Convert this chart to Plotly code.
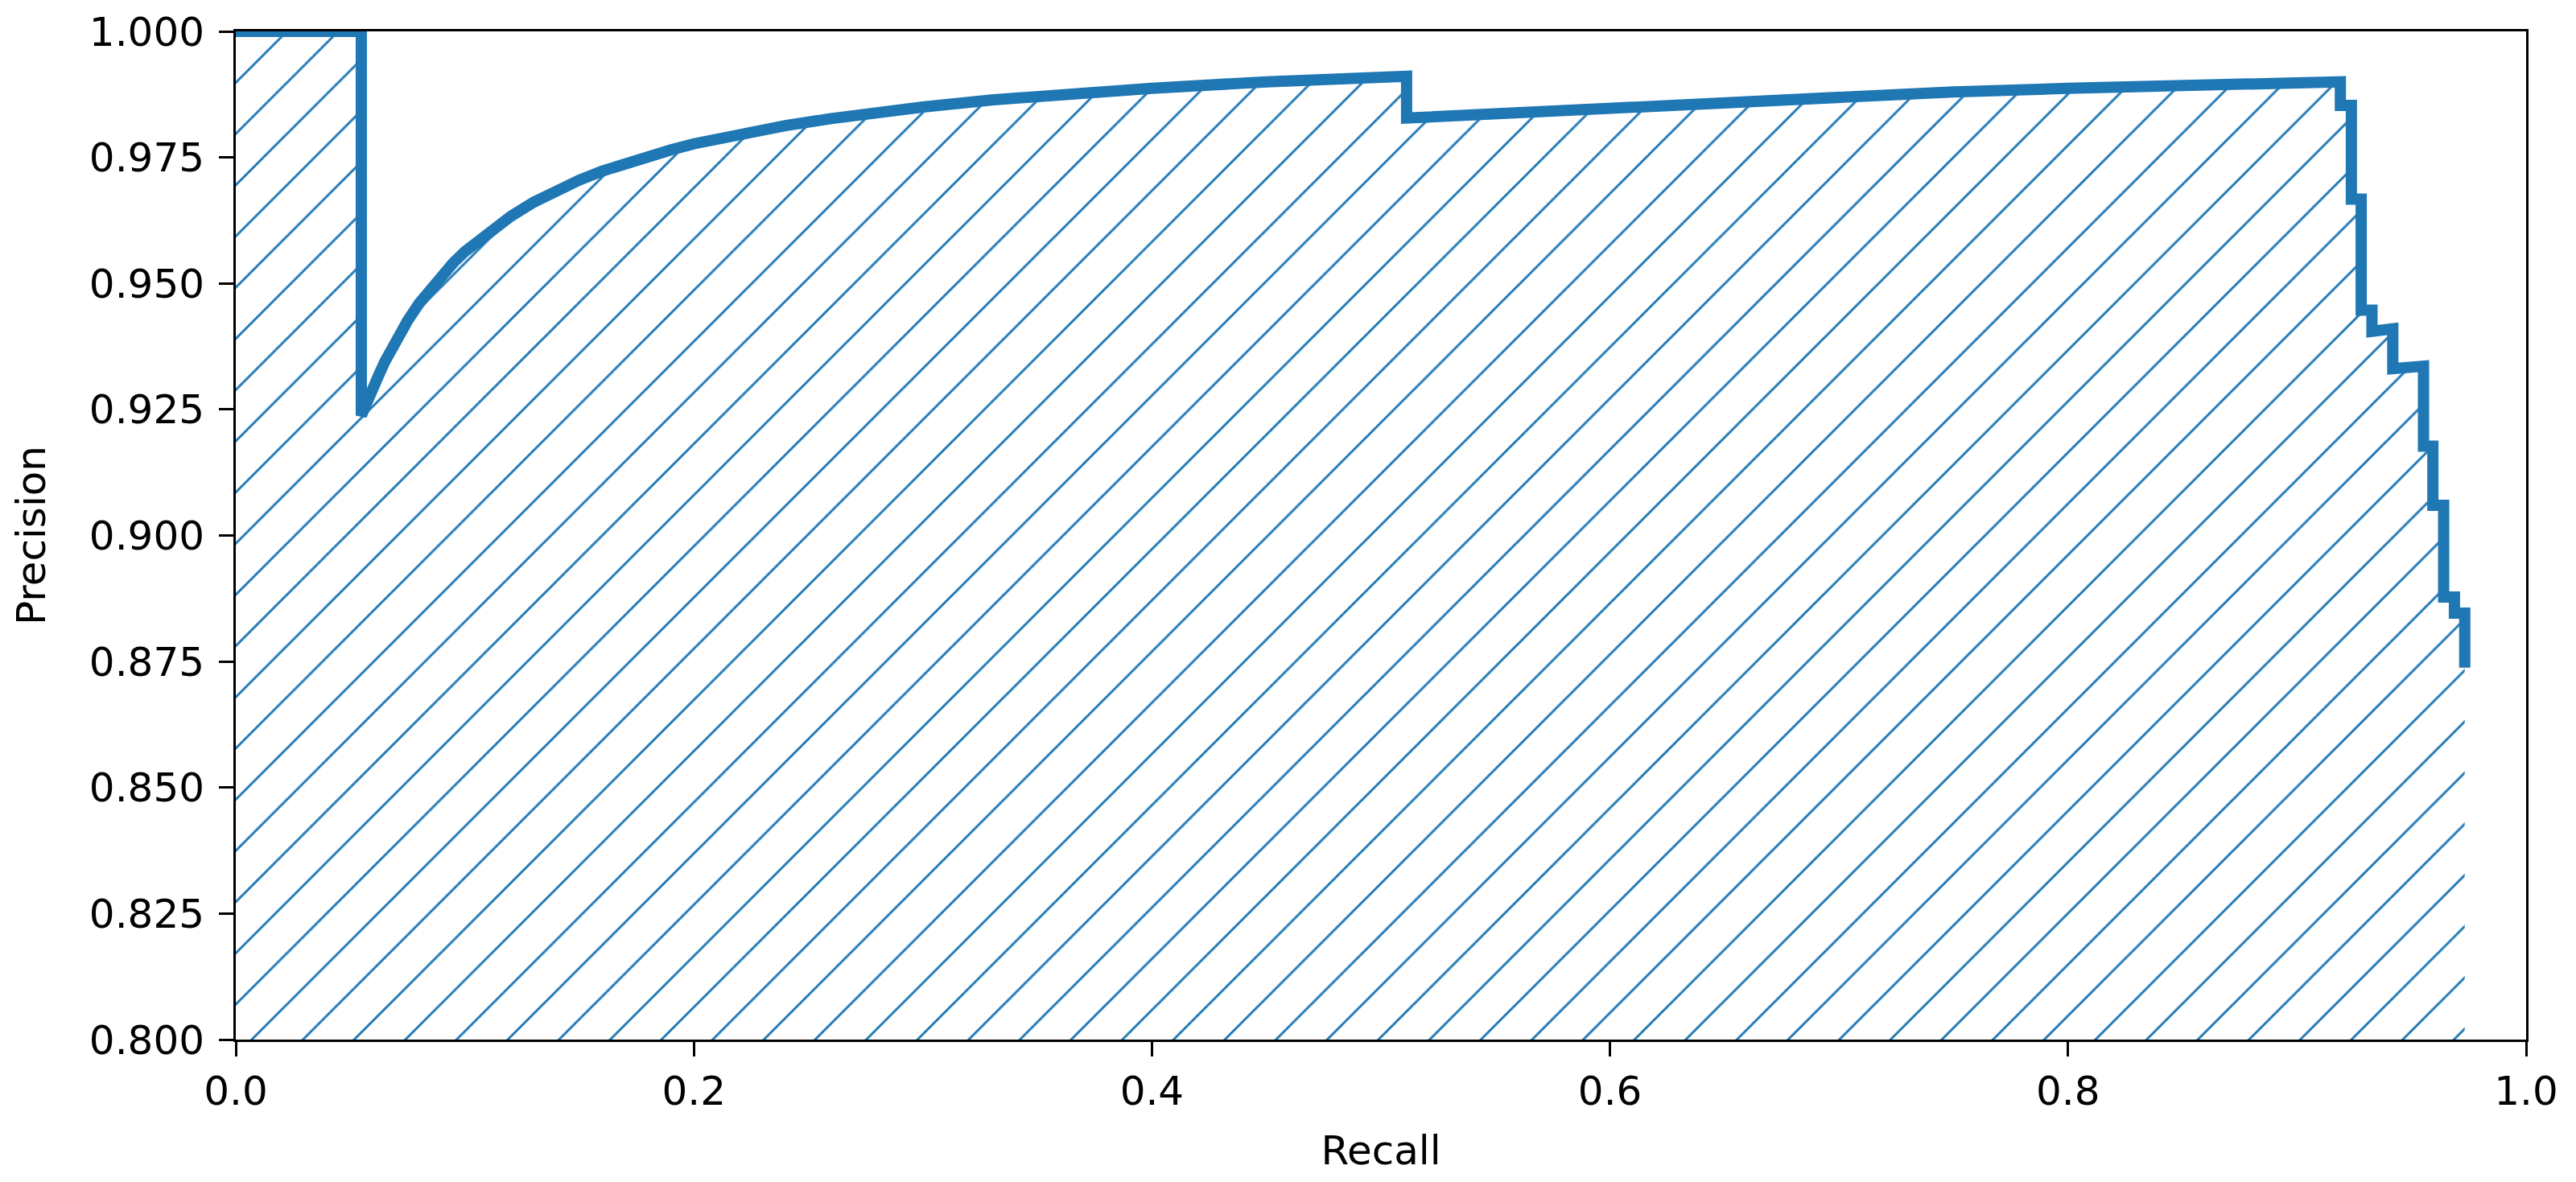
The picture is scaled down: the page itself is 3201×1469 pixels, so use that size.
import plotly.graph_objects as go

# Precision-recall curve values
recall = [0.0, 0.0548, 0.0548, 0.057, 0.060, 0.0625, 0.065, 0.0675, 0.070, 0.075,
          0.080, 0.085, 0.090, 0.095, 0.100, 0.110, 0.120, 0.130, 0.140, 0.150,
          0.160, 0.170, 0.180, 0.190, 0.200, 0.220, 0.240, 0.260, 0.280, 0.300,
          0.330, 0.360, 0.400, 0.450, 0.5112,
          0.5112, 0.550, 0.600, 0.650, 0.700, 0.750, 0.800, 0.850, 0.9189,
          0.9189, 0.9237, 0.9237, 0.9280, 0.9280, 0.9327, 0.9327, 0.9418, 0.9418,
          0.9552, 0.9552, 0.9593, 0.9593, 0.9640, 0.9640, 0.9687, 0.9687, 0.9732,
          0.9732]
precision = [1.0, 1.0, 0.9238, 0.9258, 0.9293, 0.9319, 0.9344, 0.9366, 0.9388, 0.9426,
             0.9460, 0.9490, 0.9517, 0.9541, 0.9563, 0.9601, 0.9633, 0.9661, 0.9684,
             0.9705, 0.9723, 0.9738, 0.9753, 0.9765, 0.9777, 0.9797, 0.9813, 0.9827,
             0.9840, 0.9850, 0.9864, 0.9875, 0.9887, 0.9900, 0.9911,
             0.9828, 0.9837, 0.9850, 0.9862, 0.9871, 0.9880, 0.9887, 0.9894, 0.9900,
             0.9853, 0.9853, 0.9667, 0.9667, 0.9447, 0.9447, 0.9405, 0.9410, 0.9331,
             0.9336, 0.9177, 0.9177, 0.9060, 0.9060, 0.8878, 0.8878, 0.8846, 0.8846,
             0.8738]

x_ticks = [0.0, 0.2, 0.4, 0.6, 0.8, 1.0]
y_ticks = [0.800, 0.825, 0.850, 0.875, 0.900, 0.925, 0.950, 0.975, 1.000]

BLUE = "#1f77b4"
FONT = "DejaVu Sans"

fig = go.Figure()
fig.add_trace(go.Scatter(
    x=recall, y=precision, mode="lines",
    line=dict(color=BLUE, width=14),
    showlegend=False, hoverinfo="skip",
))
fig.add_trace(go.Scatter(
    x=recall, y=precision, mode="lines",
    line=dict(width=0, color=BLUE),
    fill="tozeroy", fillcolor="rgba(0,0,0,0)",
    fillpattern=dict(shape="/", fgcolor=BLUE, fgopacity=1, bgcolor="rgba(0,0,0,0)",
                     size=45, solidity=0.065, fillmode="overlay"),
    showlegend=False, hoverinfo="skip",
))

axis_common = dict(
    showline=True, linecolor="black", linewidth=3, mirror=True,
    ticks="outside", ticklen=18, tickwidth=3, tickcolor="black",
    showgrid=False, zeroline=False, ticklabeloverflow="allow", automargin=False,
    tickfont=dict(family=FONT, size=50, color="black"),
)

fig.update_xaxes(
    range=[0, 1], tickvals=x_ticks, ticktext=[f"{v:.1f}" for v in x_ticks],
    title=dict(text="Recall", font=dict(family=FONT, size=50, color="black"), standoff=28),
    **axis_common,
)
fig.update_yaxes(
    range=[0.8, 1.0], tickvals=y_ticks, ticktext=[f"{v:.3f}" for v in y_ticks],
    ticklabelstandoff=8,
    title=dict(text="Precision", font=dict(family=FONT, size=50, color="black"), standoff=39),
    **axis_common,
)

# page body has an 8px margin: shrink the figure so the plot area lands where it should
fig.update_layout(
    width=3185, height=1453,
    margin=dict(l=285, r=54, t=31, b=169, autoexpand=False),
    paper_bgcolor="white", plot_bgcolor="white",
    font=dict(family=FONT, color="black"),
)

fig.write_html("out.html")
